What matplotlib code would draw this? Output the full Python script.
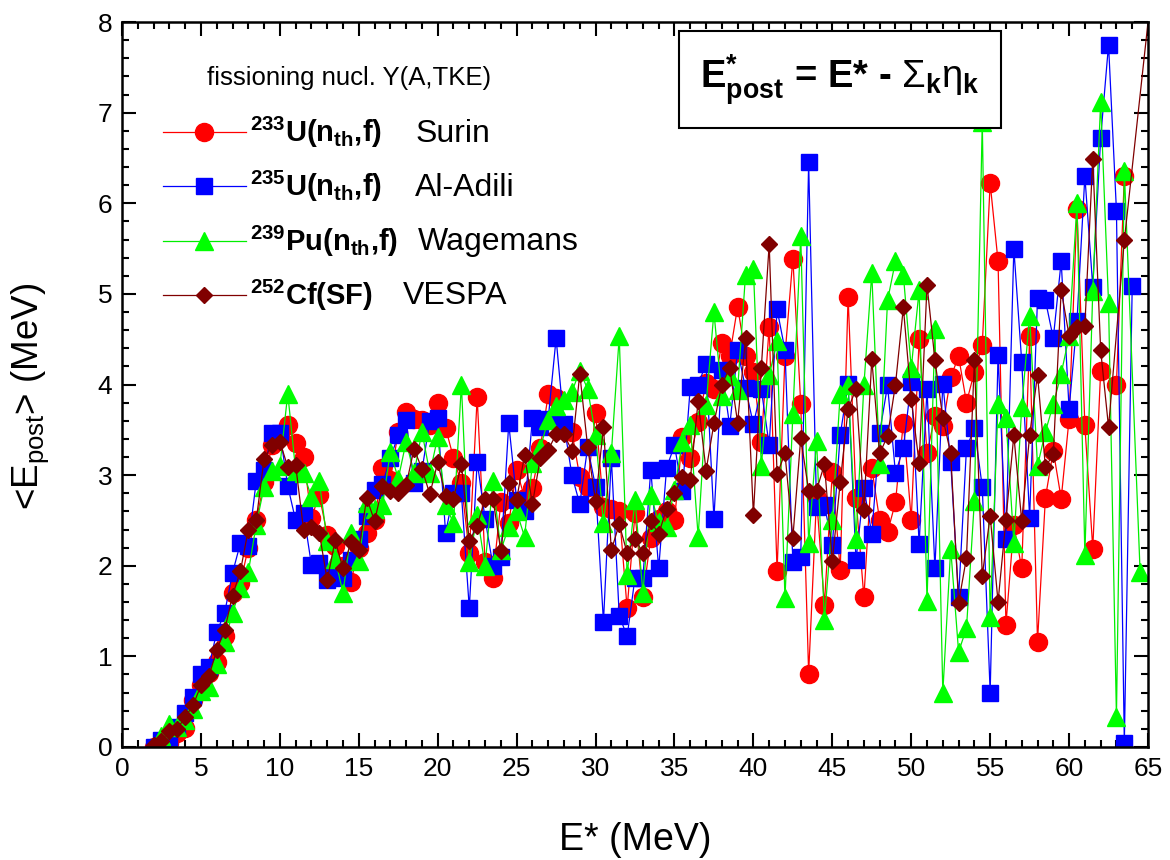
import matplotlib
matplotlib.use("Agg")
import matplotlib.pyplot as plt
import numpy as np
from matplotlib.ticker import MultipleLocator

plt.rcParams['font.family'] = ['Liberation Sans', 'DejaVu Sans']
plt.rcParams['mathtext.fontset'] = 'custom'
plt.rcParams['mathtext.rm'] = 'Liberation Sans'
plt.rcParams['mathtext.it'] = 'Liberation Sans'
plt.rcParams['mathtext.bf'] = 'Liberation Sans:bold'

# 233U(nth,f) Surin
e_u233 = [2, 2.5, 3, 3.5, 4, 4.5, 5, 5.5, 6, 6.5, 7, 7.5, 8, 8.5, 9, 9.5, 10, 10.5, 11, 11.5,
          12, 12.5, 13, 13.5, 14, 14.5, 15, 15.5, 16, 16.5, 17, 17.5, 18, 18.5, 19, 19.5, 20, 20.5,
          21, 21.5, 22, 22.5, 23, 23.5, 24, 24.5, 25, 25.5, 26, 26.5, 27, 27.5, 28, 28.5, 29, 29.5,
          30, 30.5, 31, 31.5, 32, 32.5, 33, 33.5, 34, 34.5, 35, 35.5, 36, 36.5, 37, 37.5, 38, 38.5,
          39, 39.5, 40, 40.5, 41, 41.5, 42, 42.5, 43, 43.5, 44, 44.5, 45, 45.5, 46, 46.5, 47, 47.5,
          48, 48.5, 49, 49.5, 50, 50.5, 51, 51.5, 52, 52.5, 53, 53.5, 54, 54.5, 55, 55.5, 56, 56.5,
          57, 57.5, 58, 58.5, 59, 59.5, 60, 60.5, 61, 61.5, 62, 63, 63.5]
y_u233 = [0.0, 0.02, 0.04, 0.15, 0.21, 0.52, 0.68, 0.82, 0.94, 1.22, 1.7, 1.81, 2.2, 2.5, 2.92, 3.33, 3.45, 3.55, 3.36, 3.2,
          2.53, 2.78, 2.34, 2.22, 2.0, 1.82, 2.2, 2.36, 2.5, 3.08, 2.95, 3.48, 3.7, 3.62, 3.61, 3.55, 3.8, 3.52,
          3.19, 2.91, 2.14, 3.86, 2.04, 1.87, 2.7, 2.47, 3.06, 2.75, 2.86, 3.3, 3.89, 3.85, 3.5, 3.48, 2.98, 2.87,
          3.69, 2.65, 2.63, 2.6, 1.53, 2.58, 1.66, 2.31, 2.52, 2.6, 2.5, 3.42, 3.19, 3.59, 4.02, 3.95, 4.46, 4.32,
          4.86, 4.32, 4.14, 3.37, 4.64, 1.94, 4.32, 5.39, 3.79, 0.81, 2.75, 1.57, 3.04, 1.95, 4.97, 2.75, 1.65, 3.08,
          2.5, 2.37, 2.7, 3.58, 2.51, 4.5, 3.24, 3.65, 3.54, 4.08, 4.31, 3.8, 4.14, 4.44, 6.22, 5.36, 1.35, 2.45,
          1.97, 4.53, 1.16, 2.75, 3.27, 2.74, 3.62, 5.94, 3.55, 2.19, 4.15, 4.0, 6.3]

# 235U(nth,f) Al-Adili
e_u235 = [2, 2.5, 3, 3.5, 4, 4.5, 5, 5.5, 6, 6.5, 7, 7.5, 8, 8.5, 9, 9.5, 10, 10.5, 11, 11.5,
          12, 12.5, 13, 13.5, 14, 14.5, 15, 15.5, 16, 16.5, 17, 17.5, 18, 18.5, 19, 19.5, 20, 20.5,
          21, 21.5, 22, 22.5, 23, 23.5, 24, 24.5, 25, 25.5, 26, 26.5, 27, 27.5, 28, 28.5, 29, 29.5,
          30, 30.5, 31, 31.5, 32, 32.5, 33, 33.5, 34, 34.5, 35, 35.5, 36, 36.5, 37, 37.5, 38, 38.5,
          39, 39.5, 40, 40.5, 41, 41.5, 42, 42.5, 43, 43.5, 44, 44.5, 45, 45.5, 46, 46.5, 47, 47.5,
          48, 48.5, 49, 49.5, 50, 50.5, 51, 51.5, 52, 52.5, 53, 53.5, 54, 54.5, 55, 55.5, 56, 56.5,
          57, 57.5, 58, 58.5, 59, 59.5, 60, 60.5, 61, 61.5, 62, 62.5, 63, 63.5, 64]
y_u235 = [0.0, 0.08, 0.1, 0.22, 0.37, 0.55, 0.8, 0.88, 1.27, 1.48, 1.92, 2.25, 2.22, 2.93, 3.06, 3.47, 3.47, 2.88, 2.5, 2.58,
          2.01, 2.03, 1.84, 1.9, 1.86, 2.06, 2.3, 2.55, 2.84, 2.9, 3.19, 3.44, 3.61, 2.91, 3.05, 3.6, 3.63, 2.36,
          2.8, 2.8, 1.53, 3.15, 2.52, 2.0, 2.1, 3.57, 2.73, 2.6, 3.63, 3.53, 3.62, 4.51, 3.56, 3.0, 2.68, 3.31,
          2.87, 1.38, 3.19, 1.45, 1.22, 1.87, 1.87, 3.06, 1.97, 3.08, 3.33, 2.82, 3.97, 4.0, 4.23, 2.52, 4.16, 3.54,
          4.38, 3.96, 3.56, 3.95, 3.33, 4.83, 4.38, 2.04, 2.1, 6.45, 2.65, 2.67, 2.23, 3.44, 4.01, 2.06, 2.86, 2.35,
          3.47, 3.99, 3.02, 3.3, 4.03, 2.24, 3.95, 1.97, 4.01, 3.15, 1.65, 3.3, 3.52, 2.87, 0.6, 4.33, 2.3, 5.5,
          4.25, 2.53, 4.95, 4.93, 4.51, 5.36, 3.73, 4.7, 6.3, 5.08, 6.72, 7.75, 5.92, 0.04, 5.09]

# 239Pu(nth,f) Wagemans
e_pu239 = [2, 2.5, 3, 3.5, 4, 4.5, 5, 5.5, 6, 6.5, 7, 7.5, 8, 8.5, 9, 9.5, 10, 10.5, 11, 11.5,
           12, 12.5, 13, 13.5, 14, 14.5, 15, 15.5, 16, 16.5, 17, 17.5, 18, 18.5, 19, 19.5, 20, 20.5,
           21, 21.5, 22, 22.5, 23, 23.5, 24, 24.5, 25, 25.5, 26, 26.5, 27, 27.5, 28, 28.5, 29, 29.5,
           30, 30.5, 31, 31.5, 32, 32.5, 33, 33.5, 34, 34.5, 35, 35.5, 36, 36.5, 37, 37.5, 38, 38.5,
           39, 39.5, 40, 40.5, 41, 41.5, 42, 42.5, 43, 43.5, 44, 44.5, 45, 45.5, 46, 46.5, 47, 47.5,
           48, 48.5, 49, 49.5, 50, 50.5, 51, 51.5, 52, 52.5, 53, 53.5, 54, 54.5, 55, 55.5, 56, 56.5,
           57, 57.5, 58, 58.5, 59, 59.5, 60, 60.5, 61, 61.5, 62, 62.5, 63, 63.5, 64.5]
y_pu239 = [0.0, 0.12, 0.25, 0.22, 0.3, 0.42, 0.62, 0.66, 0.92, 1.16, 1.48, 1.75, 1.93, 2.45, 2.87, 3.05, 3.1, 3.9, 3.05, 3.02,
           2.76, 2.93, 2.27, 2.08, 1.7, 2.36, 2.05, 2.69, 2.63, 2.67, 3.26, 2.96, 3.37, 3.02, 3.48, 3.02, 3.42, 2.67,
           2.47, 4.0, 2.04, 2.56, 2.0, 2.93, 2.17, 2.43, 2.6, 2.32, 3.13, 3.3, 3.61, 3.76, 3.83, 3.92, 4.15, 3.95,
           3.44, 2.47, 3.24, 4.53, 1.9, 2.73, 1.7, 2.78, 2.48, 2.43, 2.84, 3.37, 3.55, 2.32, 3.77, 4.8, 3.87, 4.09,
           3.94, 5.21, 5.27, 3.1, 4.1, 4.48, 1.64, 3.67, 5.64, 2.25, 3.38, 1.4, 2.51, 3.9, 3.99, 2.29, 3.99, 5.23,
           3.12, 4.93, 5.36, 5.21, 4.18, 5.04, 1.61, 4.61, 0.6, 2.19, 1.05, 1.31, 2.72, 6.9, 1.43, 3.78, 3.63, 2.25,
           3.75, 4.76, 3.1, 3.48, 3.78, 4.12, 4.53, 6.0, 2.12, 5.03, 7.12, 4.9, 0.33, 6.36, 1.93]

# 252Cf(SF) VESPA
e_cf252 = [2, 2.5, 3, 3.5, 4, 4.5, 5, 5.5, 6, 6.5, 7, 7.5, 8, 8.5, 9, 9.5, 10, 10.5, 11, 11.5,
           12, 12.5, 13, 13.5, 14, 14.5, 15, 15.5, 16, 16.5, 17, 17.5, 18, 18.5, 19, 19.5, 20, 20.5,
           21, 21.5, 22, 22.5, 23, 23.5, 24, 24.5, 25, 25.5, 26, 26.5, 27, 27.5, 28, 28.5, 29, 29.5,
           30, 30.5, 31, 31.5, 32, 32.5, 33, 33.5, 34, 34.5, 35, 35.5, 36, 36.5, 37, 37.5, 38, 38.5,
           39, 39.5, 40, 40.5, 41, 41.5, 42, 42.5, 43, 43.5, 44, 44.5, 45, 45.5, 46, 46.5, 47, 47.5,
           48, 48.5, 49, 49.5, 50, 50.5, 51, 51.5, 52, 52.5, 53, 53.5, 54, 54.5, 55, 55.5, 56, 56.5,
           57, 57.5, 58, 58.5, 59, 59.5, 60, 60.5, 61, 61.5, 62, 62.5, 63.5, 65.5]
y_cf252 = [0.02, 0.07, 0.18, 0.2, 0.33, 0.46, 0.68, 0.78, 1.07, 1.29, 1.67, 1.94, 2.4, 2.5, 3.18, 3.33, 3.37, 3.09, 3.11, 2.4,
           2.43, 2.36, 1.84, 2.28, 1.97, 2.26, 2.17, 2.75, 2.49, 2.88, 2.82, 2.8, 2.89, 3.29, 3.07, 2.79, 3.14, 2.77,
           2.74, 3.12, 2.27, 2.44, 2.74, 2.74, 2.16, 2.91, 2.73, 3.22, 2.68, 3.19, 3.28, 3.45, 3.45, 3.27, 4.12, 3.31,
           2.71, 3.53, 2.17, 2.46, 2.14, 2.3, 2.14, 2.49, 2.35, 2.63, 2.8, 2.98, 2.95, 3.82, 3.05, 3.57, 4.0, 4.18,
           3.58, 4.51, 2.56, 4.18, 5.55, 3.01, 3.24, 2.31, 3.41, 2.83, 2.83, 3.12, 2.05, 2.92, 3.73, 3.95, 2.62, 4.28,
           3.24, 3.43, 4.0, 4.85, 3.84, 3.13, 5.1, 4.27, 3.63, 3.24, 1.59, 2.09, 4.27, 1.89, 2.55, 1.6, 2.51, 3.44,
           2.49, 3.44, 4.11, 3.09, 3.23, 5.04, 4.54, 4.63, 4.65, 6.49, 4.38, 3.53, 5.59, 8.8]

series_labels = [r"$\mathbf{^{233}U(n_{th}{,}f)}$", r"$\mathbf{^{235}U(n_{th}{,}f)}$",
                 r"$\mathbf{^{239}Pu(n_{th}{,}f)}$", r"$\mathbf{^{252}Cf(SF)}$"]
authors = ["Surin", "Al-Adili", "Wagemans", "VESPA"]
author_x = [0.2856, 0.2856, 0.2885, 0.274]

fig = plt.figure(figsize=(11.7, 8.6), dpi=100)
ax = fig.add_axes([0.1043, 0.1314, 0.8769, 0.843])

l1, = ax.plot(e_u233, y_u233, '-', color='#ff0000', lw=0.9, marker='o', ms=13,
              mfc='#ff0000', mec='#ff0000')
l2, = ax.plot(e_u235, y_u235, '-', color='#0000ff', lw=0.9, marker='s', ms=11,
              mfc='#0000ff', mec='#0000ff')
l3, = ax.plot(e_pu239, y_pu239, '-', color='#00ee00', lw=0.9, marker='^', ms=13,
              mfc='#00ff00', mec='#00ff00')
l4, = ax.plot(e_cf252, y_cf252, '-', color='#800000', lw=0.9, marker='D', ms=8.5,
              mfc='#800000', mec='#800000')

ax.set_xlim(0, 65)
ax.set_ylim(0, 8)
ax.xaxis.set_major_locator(MultipleLocator(5))
ax.xaxis.set_minor_locator(MultipleLocator(1))
ax.yaxis.set_major_locator(MultipleLocator(1))
ax.yaxis.set_minor_locator(MultipleLocator(0.2))
ax.tick_params(which='both', direction='in', top=True, right=True, width=1.5, labelsize=19)
ax.tick_params(which='major', length=10, pad=7)
ax.tick_params(which='minor', length=5)
for s in ax.spines.values():
    s.set_linewidth(1.8)

ax.set_xlabel("E* (MeV)", fontsize=27)
ax.xaxis.set_label_coords(0.5, -0.104)
ax.set_ylabel(r"<E$_{post}$> (MeV)", fontsize=26.5)
ax.yaxis.set_label_coords(-0.069, 0.484)

# legend
ax.legend([l1, l2, l3, l4], series_labels, loc='upper left', bbox_to_anchor=(0.04, 0.872),
          frameon=False, fontsize=21, handlelength=2.83, labelspacing=0.66, handletextpad=0.15,
          borderpad=0, borderaxespad=0)
ax.text(0.0828, 0.923, "fissioning nucl. Y(A,TKE)", transform=ax.transAxes,
        fontsize=18.5, ha='left', va='center')
for i, name in enumerate(authors):
    ax.text(author_x[i], 0.8457 - i * 0.0745, name, transform=ax.transAxes,
            fontsize=23, va='center', ha='left')

# formula box
ax.text(0.70, 0.921, r"$\mathbf{E^{*}_{post}}$" + " = E* - " + r"$\Sigma_\mathbf{k}\eta_\mathbf{k}$",
        transform=ax.transAxes, fontsize=27.5, fontweight='bold', ha='center', va='center',
        bbox=dict(boxstyle='square,pad=0.55', fc='white', ec='black', lw=1.5))

fig.savefig("out.png", dpi=100)
